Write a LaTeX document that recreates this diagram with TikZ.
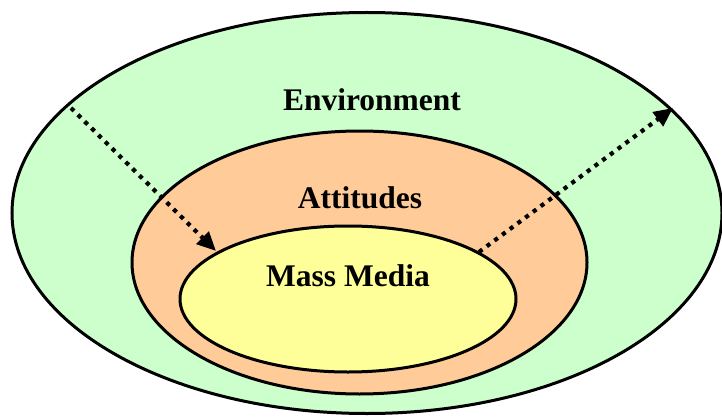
\documentclass[tikz,border=0pt]{standalone}
\usepackage{fontspec}
\setmainfont{Liberation Serif}
\usetikzlibrary{shapes.geometric,arrows.meta}
\definecolor{envgreen}{HTML}{CCFFCC}
\definecolor{attorange}{HTML}{FFCC99}
\definecolor{mediayellow}{HTML}{FFFF99}
\tikzset{ring/.style={ellipse,draw=black,line width=3pt,inner sep=0pt}}
\tikzset{t/.style={font=\fontsize{31.5}{34}\selectfont\bfseries,inner sep=0pt}}
\tikzset{flow/.style={line width=4.2pt,dash pattern=on 4.2pt off 5.4pt,-{Triangle[length=19pt,width=17pt]}}}

\begin{document}
\begin{tikzpicture}[x=1pt,y=-1pt]
      \useasboundingbox (0,0) rectangle (722,417);
      \node[ring,fill=envgreen,minimum width=710pt,minimum height=401pt] (env) at (367,213) {};
      \node[ring,fill=attorange,minimum width=455pt,minimum height=263pt] (att) at (359.5,262.5) {};
      \node[ring,fill=mediayellow,minimum width=336pt,minimum height=146pt] (media) at (348,299) {};
      \node[t] (envt) at (372,100) {Environment};
      \node[t] (attt) at (360,198) {Attitudes};
      \node[t] (mediat) at (348,276) {Mass Media};
      \coordinate (inA) at (71,108);
      \coordinate (inB) at (216,251);
      \coordinate (outA) at (479,252);
      \coordinate (outB) at (673,108);
        \draw[flow] (inA) -- (inB);
        \draw[flow] (outA) -- (outB);
    \end{tikzpicture}
\end{document}
